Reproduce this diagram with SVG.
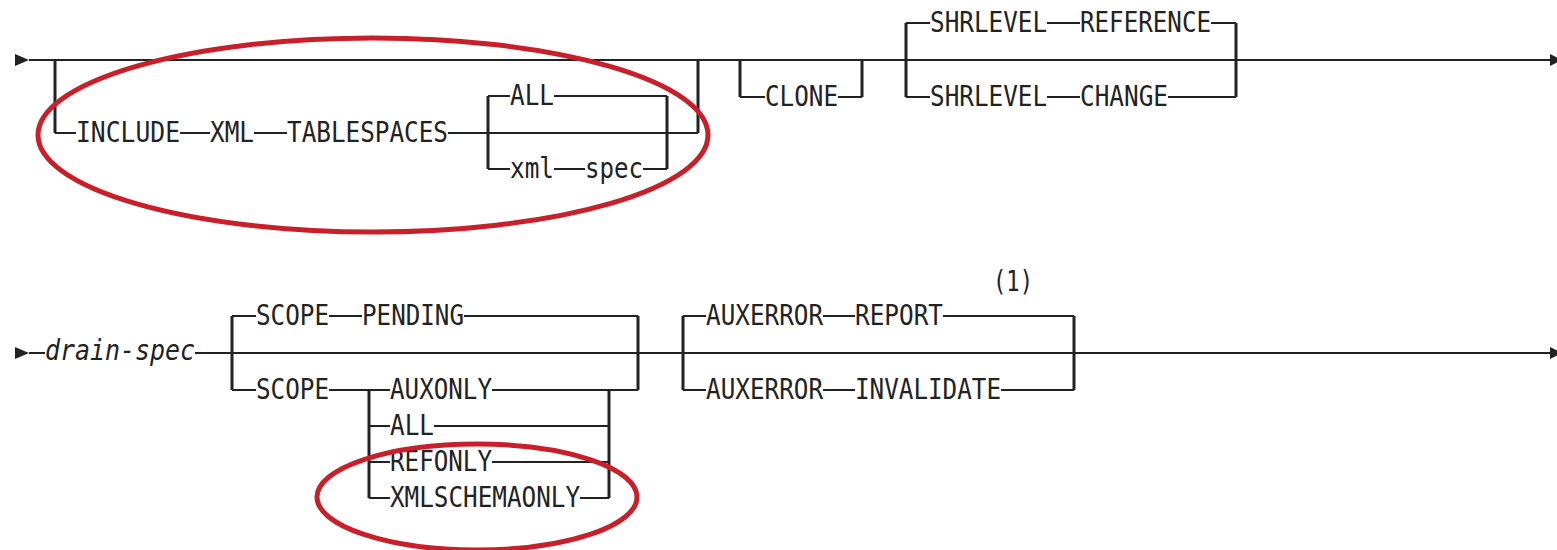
<svg xmlns="http://www.w3.org/2000/svg" width="1557" height="550" viewBox="0 0 1557 550">
<style>
.t{font-family:"DejaVu Sans Mono","Liberation Mono",monospace;font-size:28px;fill:#222}
.i{font-style:italic}
.h{stroke:#222;stroke-width:2;fill:none}
.v{stroke:#222;stroke-width:3;fill:none}
.ar{fill:#222}
.hl{fill:none;stroke:#c8202b;stroke-width:5}
</style>
<rect width="1557" height="550" fill="#fff"/>
<g id="connectors">
<polygon class="ar" points="15,54 29,60 15,66"/>
<line class="h" x1="29" y1="60" x2="1552" y2="60"/>
<polygon class="ar" points="1550,54 1562,60 1550,66"/>
<path class="v" d="M55,60V133M488,96V169M667,96V169M698,60V133"/>
<path class="h" d="M55,133H76M180,133H210M254,133H287M448,133H698M488,96H510M554,96H667M488,169H510M554,169H585M643,169H667"/>
<path class="v" d="M740,60V97M862,60V97"/>
<path class="h" d="M740,97H765M838,97H862"/>
<path class="v" d="M906,23V97M1236,23V97"/>
<path class="h" d="M906,23H930M1047,23H1080M1211,23H1236M906,97H930M1047,97H1080M1168,97H1236"/>
<polygon class="ar" points="15,347 29,353 15,359"/>
<path class="h" d="M29,353H45M195,353H1552"/>
<polygon class="ar" points="1550,347 1562,353 1550,359"/>
<path class="v" d="M232,316V390M638,316V390M369,390V498M609,390V498"/>
<path class="h" d="M232,316H256M329,316H362M464,316H638M232,390H256M329,390H390M492,390H638M369,426H390M434,426H609M369,462H390M492,462H609M369,498H390M580,498H609"/>
<path class="v" d="M683,316V390M1074,316V390"/>
<path class="h" d="M683,316H706M823,316H855M943,316H1074M683,390H706M823,390H855M1001,390H1074"/>
</g>
<g id="include"><text class="t" x="76" y="142" textLength="104" lengthAdjust="spacingAndGlyphs">INCLUDE</text></g>
<g id="xml-kw"><text class="t" x="210" y="142" textLength="44" lengthAdjust="spacingAndGlyphs">XML</text></g>
<g id="tablespaces"><text class="t" x="287" y="142" textLength="161" lengthAdjust="spacingAndGlyphs">TABLESPACES</text></g>
<g id="all1"><text class="t" x="510" y="105" textLength="44" lengthAdjust="spacingAndGlyphs">ALL</text></g>
<g id="xml"><text class="t" x="510" y="178" textLength="44" lengthAdjust="spacingAndGlyphs">xml</text></g>
<g id="spec"><text class="t" x="585" y="178" textLength="58" lengthAdjust="spacingAndGlyphs">spec</text></g>
<g id="clone"><text class="t" x="765" y="106" textLength="73" lengthAdjust="spacingAndGlyphs">CLONE</text></g>
<g id="shrlevel1"><text class="t" x="930" y="32" textLength="117" lengthAdjust="spacingAndGlyphs">SHRLEVEL</text></g>
<g id="reference"><text class="t" x="1080" y="32" textLength="131" lengthAdjust="spacingAndGlyphs">REFERENCE</text></g>
<g id="shrlevel2"><text class="t" x="930" y="106" textLength="117" lengthAdjust="spacingAndGlyphs">SHRLEVEL</text></g>
<g id="change"><text class="t" x="1080" y="106" textLength="88" lengthAdjust="spacingAndGlyphs">CHANGE</text></g>
<g id="drain-spec"><text class="t i" x="45" y="360" textLength="150" lengthAdjust="spacingAndGlyphs">drain-spec</text></g>
<g id="scope1"><text class="t" x="256" y="325" textLength="73" lengthAdjust="spacingAndGlyphs">SCOPE</text></g>
<g id="pending"><text class="t" x="362" y="325" textLength="102" lengthAdjust="spacingAndGlyphs">PENDING</text></g>
<g id="scope2"><text class="t" x="256" y="399" textLength="73" lengthAdjust="spacingAndGlyphs">SCOPE</text></g>
<g id="auxonly"><text class="t" x="390" y="399" textLength="102" lengthAdjust="spacingAndGlyphs">AUXONLY</text></g>
<g id="all2"><text class="t" x="390" y="435" textLength="44" lengthAdjust="spacingAndGlyphs">ALL</text></g>
<g id="refonly"><text class="t" x="390" y="471" textLength="102" lengthAdjust="spacingAndGlyphs">REFONLY</text></g>
<g id="xmlschemaonly"><text class="t" x="390" y="507" textLength="190" lengthAdjust="spacingAndGlyphs">XMLSCHEMAONLY</text></g>
<g id="auxerror1"><text class="t" x="706" y="325" textLength="117" lengthAdjust="spacingAndGlyphs">AUXERROR</text></g>
<g id="report"><text class="t" x="855" y="325" textLength="88" lengthAdjust="spacingAndGlyphs">REPORT</text></g>
<g id="note"><text class="t" x="993" y="291" textLength="40" lengthAdjust="spacingAndGlyphs">(1)</text></g>
<g id="auxerror2"><text class="t" x="706" y="399" textLength="117" lengthAdjust="spacingAndGlyphs">AUXERROR</text></g>
<g id="invalidate"><text class="t" x="855" y="399" textLength="146" lengthAdjust="spacingAndGlyphs">INVALIDATE</text></g>
<g id="highlights">
<ellipse class="hl" cx="373" cy="135" rx="335" ry="97"/>
<ellipse class="hl" cx="477" cy="497" rx="160" ry="53"/>
</g>
</svg>
